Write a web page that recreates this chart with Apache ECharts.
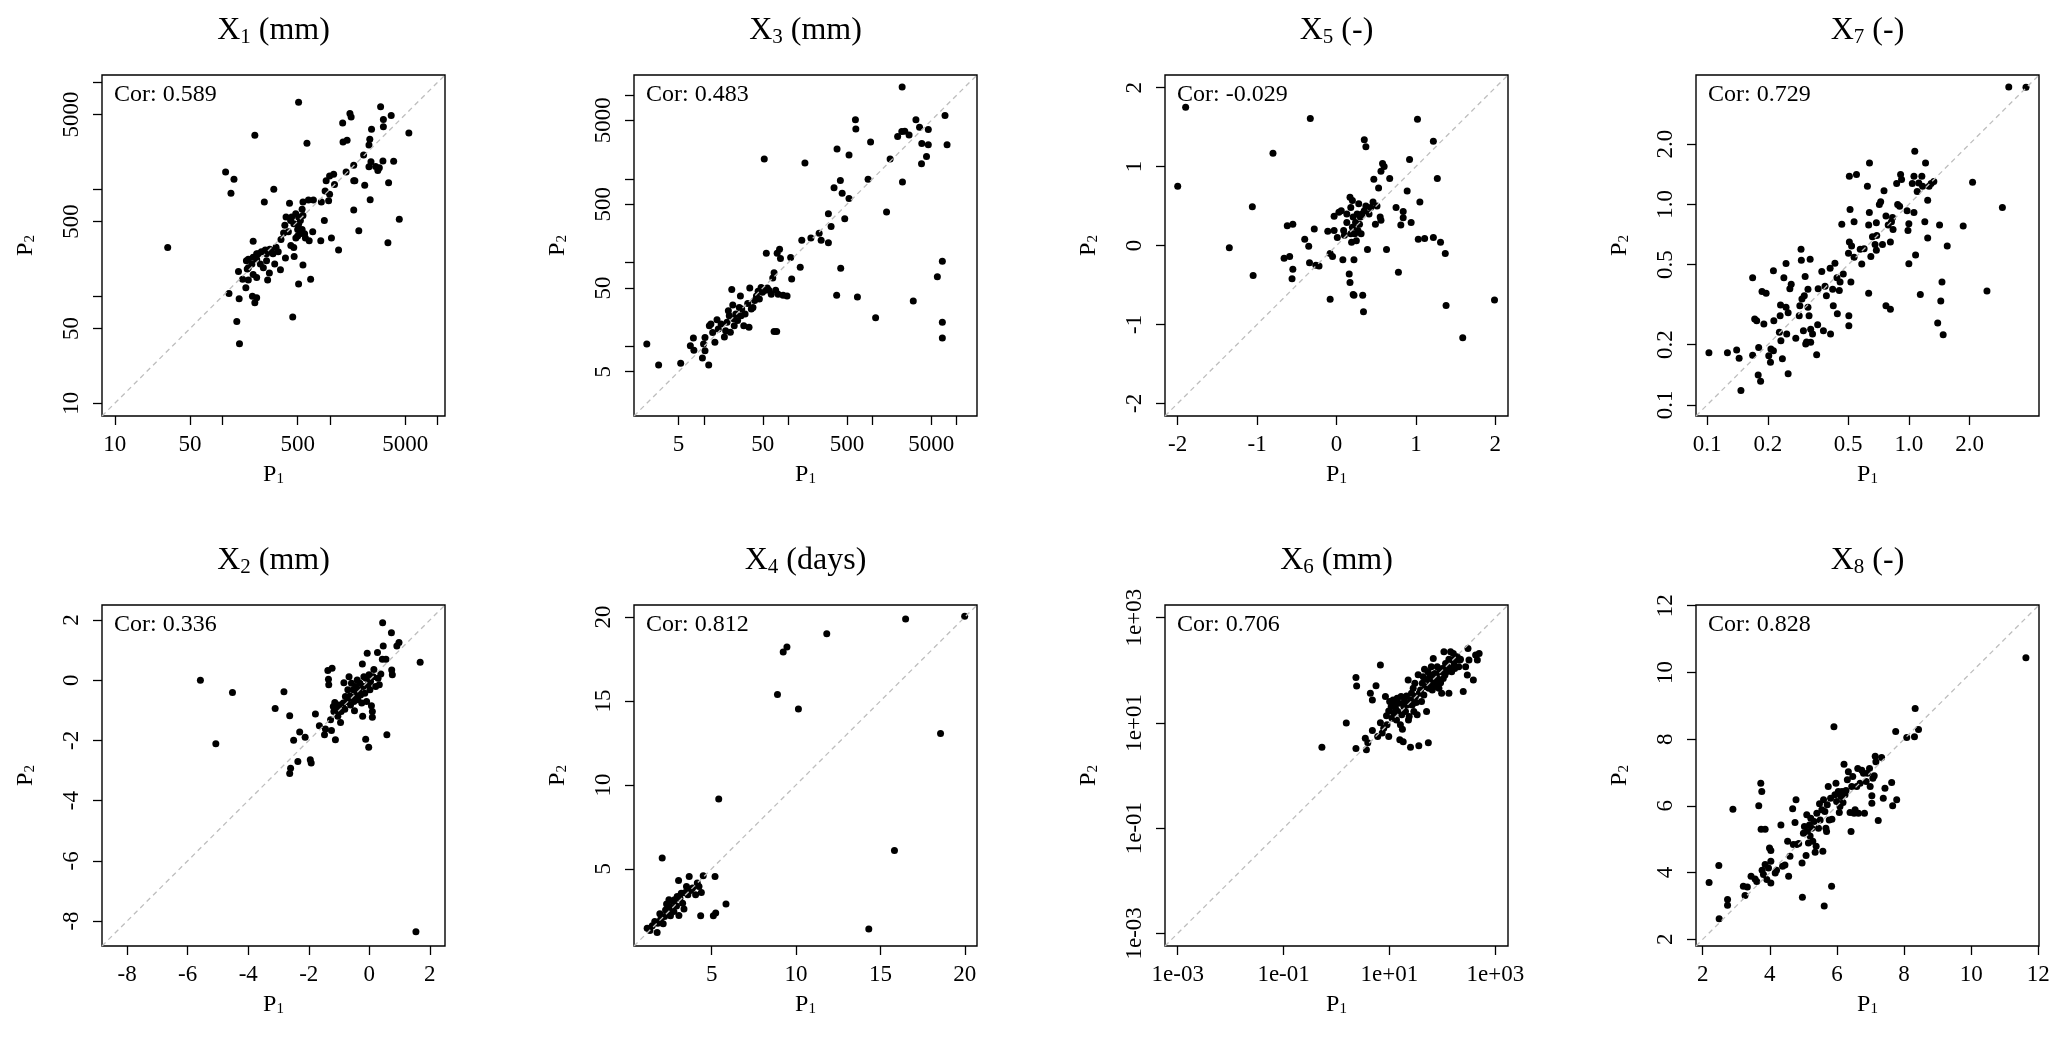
<!DOCTYPE html>
<html>
<head>
<meta charset="utf-8">
<script src="https://cdn.jsdelivr.net/npm/echarts@6/dist/echarts.min.js"></script>
<style>
  html, body { margin: 0; background: #fff; }
  #chart { width: 2067px; height: 1043px; }
</style>
</head>
<body>
<div id="chart"></div>
<script>
  // [P1, P2] pairs
  const x1Pts = [[510,6500],[200,3200],[610,2700],[107,1450],[128,1240],[120,920],[300,1000],[245,760],[31,285],[136,58],[144,36],[450,64],[115,106],[143,95],[200,87],[208,97],[190,100],[510,130],[660,144],[165,120],[141,170],[154,144],[174,142],[263,142],[273,165],[346,177],[560,196],[464,235],[385,228],[306,200],[193,326],[432,298],[481,351],[580,383],[640,330],[690,400],[820,330],[1030,350],[1200,270],[1850,410],[1660,640],[885,510],[3450,317],[4400,525],[3500,1150],[2360,800],[2100,1090],[1660,1200],[1700,1200],[3900,1830],[3100,1840],[2400,1810],[2300,1620],[2650,1630],[2780,1500],[2870,1590],[5400,3350],[2950,5900],[3700,4900],[3130,4480],[3130,3840],[2430,3640],[2340,2930],[2300,2590],[2050,2090],[1660,1680],[1410,1450],[1530,5100],[1570,4750],[1310,4170],[1320,2770],[1440,2870],[1080,1380],[990,1330],[920,1200],[1100,1110],[900,965],[990,900],[970,780],[830,760],[700,795],[630,795],[560,760],[420,740],[550,650],[510,550],[440,550],[390,550],[460,475],[510,470],[550,420],[500,420],[370,390],[430,510],[530,510],[560,570],[480,590],[380,460],[350,340],[315,287],[275,275],[250,270],[230,260],[215,250],[193,231],[174,222],[167,215],[174,185],[188,200],[208,222],[225,200],[240,185],[257,215],[295,250],[330,260],[208,150],[193,160],[170,180],[208,250],[257,250],[285,265],[460,285],[500,365],[590,350],[410,400],[525,385]];

  const x3Pts = [[2.1,10.7],[2.9,6.0],[5.3,6.3],[6.9,10.2],[7.5,12.6],[7.6,9.0],[9.6,7.3],[9.9,10.7],[10.3,8.9],[10.3,12.8],[11.4,6.0],[11.6,17.7],[12.1,18.5],[12.7,14.7],[13.5,11.2],[14.3,20.8],[14.8,16.2],[16.0,18.5],[17.5,13.0],[18.1,15.4],[18.8,19.5],[19.5,26.7],[20.0,23.3],[20.6,14.8],[21.4,48],[22.0,31.3],[22.5,21.4],[22.9,17.7],[23.9,24.5],[25.1,20.4],[26.3,29.2],[27.1,40],[27.6,23.3],[28.1,28.0],[29.7,17.7],[30.8,24.5],[33.1,32.7],[34.3,17.0],[35,50],[36.5,28],[38.2,29.2],[40,35.5],[42,40],[44,45.5],[45.5,37],[47.7,50.5],[49.5,44.5],[52.3,46.5],[55,130],[56.5,50],[59,47],[63,42],[65.6,65.6],[68,76],[71,47],[74,130],[79,145],[81,112],[68,15.1],[73,15.1],[76,42],[87,41],[97,40],[107,115],[110,64],[139,88],[145,185],[158,1550],[52,1730],[186,197],[233,225],[246,185],[300,173],[300,385],[323,270],[350,787],[376,41],[380,2280],[416,955],[420,86],[437,675],[469,335],[527,582],[527,1930],[628,5070],[635,3950],[663,39],[887,990],[950,2750],[1090,22],[1470,403],[1620,1730],[1990,3200],[2230,3680],[2250,12500],[2270,920],[2420,3700],[2720,3350],[3050,35],[3280,5070],[3620,4150],[3820,1520],[3850,2650],[4380,1850],[4600,3890],[4600,2550],[5890,68],[6750,104],[6750,19.4],[6750,12.6],[7260,5700],[7680,2550]];

  const x5Pts = [[-2.0,0.75],[-1.9,1.75],[-1.35,-0.03],[-1.06,0.49],[-1.05,-0.38],[-0.8,1.17],[-0.66,-0.16],[-0.62,0.25],[-0.59,-0.14],[-0.55,0.27],[-0.55,-0.30],[-0.56,-0.42],[-0.40,0.08],[-0.35,-0.01],[-0.34,-0.22],[-0.33,1.61],[-0.28,0.21],[-0.22,-0.26],[-0.26,-0.25],[-0.11,0.18],[-0.08,-0.68],[-0.08,-0.1],[-0.05,-0.14],[-0.03,0.19],[-0.03,0.37],[0.01,0.1],[0.03,0.42],[0.06,0.44],[0.08,-0.18],[0.09,0.19],[0.10,0.13],[0.13,0.29],[0.13,0.40],[0.16,-0.36],[0.17,-0.47],[0.17,0.61],[0.18,0.48],[0.18,0.15],[0.19,0.04],[0.20,0.57],[0.20,0.23],[0.21,0.36],[0.21,-0.62],[0.22,-0.63],[0.22,-0.18],[0.23,0.15],[0.24,0.29],[0.25,0.06],[0.26,0.40],[0.27,0.19],[0.28,0.53],[0.29,0.27],[0.30,0.36],[0.31,0.15],[0.32,0.40],[0.33,-0.63],[0.34,-0.84],[0.35,0.44],[0.35,1.34],[0.37,1.25],[0.37,0.50],[0.39,-0.05],[0.41,0.40],[0.43,0.48],[0.46,0.55],[0.47,0.84],[0.49,0.27],[0.51,0.50],[0.53,0.73],[0.55,0.36],[0.56,0.94],[0.56,0.32],[0.58,1.04],[0.60,1.0],[0.63,-0.05],[0.67,0.85],[0.75,0.48],[0.78,-0.34],[0.81,0.26],[0.84,0.43],[0.84,0.35],[0.89,0.69],[0.92,1.09],[0.94,0.29],[1.02,1.60],[1.03,0.08],[1.05,0.55],[1.11,0.09],[1.22,1.32],[1.22,0.10],[1.27,0.85],[1.31,0.04],[1.37,-0.1],[1.38,-0.76],[1.59,-1.17],[1.99,-0.69]];

  const x7Pts = [[0.102,0.182],[0.126,0.182],[0.14,0.188],[0.144,0.171],[0.147,0.118],[0.168,0.177],[0.168,0.43],[0.172,0.268],[0.176,0.263],[0.179,0.141],[0.18,0.193],[0.184,0.131],[0.187,0.368],[0.191,0.253],[0.196,0.36],[0.202,0.176],[0.206,0.163],[0.207,0.19],[0.213,0.186],[0.213,0.466],[0.214,0.263],[0.228,0.23],[0.23,0.278],[0.232,0.209],[0.231,0.315],[0.236,0.17],[0.24,0.43],[0.246,0.507],[0.246,0.307],[0.248,0.226],[0.252,0.288],[0.252,0.143],[0.257,0.38],[0.261,0.4],[0.275,0.215],[0.286,0.278],[0.288,0.312],[0.292,0.597],[0.293,0.527],[0.295,0.337],[0.30,0.234],[0.303,0.35],[0.306,0.437],[0.308,0.201],[0.311,0.206],[0.316,0.377],[0.316,0.307],[0.32,0.278],[0.324,0.532],[0.326,0.238],[0.326,0.205],[0.333,0.226],[0.349,0.178],[0.353,0.251],[0.355,0.38],[0.37,0.462],[0.377,0.234],[0.384,0.39],[0.39,0.35],[0.407,0.48],[0.409,0.226],[0.419,0.377],[0.422,0.312],[0.43,0.508],[0.44,0.43],[0.442,0.285],[0.452,0.372],[0.456,0.41],[0.465,0.795],[0.473,0.45],[0.504,0.278],[0.504,0.248],[0.502,0.57],[0.507,1.38],[0.511,0.944],[0.507,0.65],[0.52,0.62],[0.516,0.41],[0.535,0.82],[0.535,0.545],[0.55,1.41],[0.574,0.597],[0.584,0.504],[0.6,0.6],[0.623,1.23],[0.632,0.36],[0.637,0.91],[0.638,1.61],[0.632,0.79],[0.648,0.55],[0.66,0.69],[0.68,0.63],[0.69,0.59],[0.69,0.81],[0.693,0.70],[0.714,1.0],[0.725,1.03],[0.74,0.63],[0.753,1.17],[0.77,0.312],[0.77,0.875],[0.79,0.79],[0.81,0.65],[0.81,0.3],[0.82,0.82],[0.83,0.86],[0.835,0.75],[0.87,1.27],[0.88,1.0],[0.9,0.98],[0.91,1.41],[0.92,1.33],[0.98,0.93],[0.99,0.74],[1.0,0.506],[1.0,0.8],[1.04,1.27],[1.06,1.38],[1.06,0.91],[1.07,1.84],[1.08,0.56],[1.1,1.16],[1.12,1.28],[1.14,0.355],[1.16,1.38],[1.17,1.23],[1.21,1.61],[1.2,0.82],[1.24,0.68],[1.24,1.05],[1.26,1.23],[1.29,1.27],[1.33,1.3],[1.39,0.256],[1.42,0.79],[1.44,0.33],[1.46,0.41],[1.48,0.224],[1.55,0.62],[1.86,0.78],[2.07,1.29],[2.44,0.37],[2.91,0.965],[3.13,3.85],[3.81,3.84]];

  const x2Pts = [[-5.58,0],[-5.07,-2.11],[-4.52,-0.41],[-3.11,-0.94],[-2.82,-0.38],[-2.63,-1.18],[-2.6,-2.92],[-2.63,-3.1],[-2.5,-1.99],[-2.36,-2.7],[-2.3,-1.72],[-2.12,-1.89],[-1.95,-2.64],[-1.92,-2.75],[-1.78,-1.12],[-1.65,-1.51],[-1.48,-1.81],[-1.45,-1.62],[-1.37,0.32],[-1.35,0.03],[-1.34,-0.15],[-1.28,-1.31],[-1.25,-1.67],[-1.23,0.4],[-1.19,-0.87],[-1.17,-1.04],[-1.14,-0.74],[-1.12,-1.98],[-1.08,-0.98],[-1.04,-1.2],[-1.0,-0.82],[-0.95,-1.4],[-0.93,-1.04],[-0.86,-0.76],[-0.84,-0.08],[-0.81,-0.96],[-0.79,-0.54],[-0.73,-0.71],[-0.71,-0.32],[-0.67,0.12],[-0.64,-0.52],[-0.62,-0.82],[-0.59,-0.1],[-0.56,-0.6],[-0.53,-0.32],[-0.51,-0.71],[-0.49,-1.01],[-0.45,-0.21],[-0.42,-0.49],[-0.4,0.01],[-0.38,-0.65],[-0.34,-0.32],[-0.31,-0.1],[-0.29,-0.49],[-0.25,-0.76],[-0.23,0.54],[-0.22,-1.2],[-0.2,-0.21],[-0.18,0.12],[-0.15,-0.43],[-0.12,-1.96],[-0.11,0.07],[-0.09,-0.71],[-0.07,0.9],[-0.04,-0.15],[-0.02,-2.23],[-0.01,0.18],[0.02,-0.32],[0.04,-0.04],[0.07,-0.85],[0.1,-1.04],[0.1,-1.23],[0.13,0.12],[0.15,0.36],[0.21,-0.21],[0.27,0.92],[0.29,0.07],[0.33,-0.15],[0.38,0.21],[0.43,0.7],[0.44,1.91],[0.46,1.14],[0.55,0.7],[0.58,-1.81],[0.73,1.58],[0.74,0.34],[0.76,0.18],[0.91,1.14],[0.98,1.25],[1.68,0.6],[1.54,-8.36]];

  const x4Pts = [[1.18,1.46],[1.34,1.32],[1.48,1.6],[1.63,1.86],[1.77,1.2],[1.81,1.76],[1.93,2.32],[1.97,1.96],[2.07,5.64],[2.13,1.72],[2.21,2.16],[2.27,2.55],[2.33,2.91],[2.41,2.4],[2.47,3.15],[2.49,2.75],[2.56,2.2],[2.66,2.65],[2.72,3.05],[2.76,2.46],[2.8,3.15],[2.92,2.79],[2.96,3.35],[3.04,4.3],[3.06,2.22],[3.12,3.25],[3.2,3.55],[3.28,2.95],[3.36,2.6],[3.44,3.59],[3.51,3.95],[3.59,3.45],[3.67,4.54],[3.75,3.71],[3.87,3.85],[4.05,3.45],[4.15,4.15],[4.25,3.95],[4.35,2.2],[4.39,3.59],[4.5,4.58],[5.1,2.2],[5.24,2.36],[5.2,4.54],[5.42,9.16],[5.85,2.91],[8.9,15.38],[9.24,17.92],[9.46,18.22],[10.14,14.52],[11.82,19.0],[14.31,1.42],[15.83,6.09],[16.49,19.89],[18.56,13.07],[19.99,20.05]];

  const x6Pts = [[0.53,3.46],[1.53,9.9],[2.33,73],[2.4,50],[2.33,3.27],[3.5,5.1],[3.67,3.1],[3.9,4.2],[4.36,36.5],[4.76,27.3],[4.76,7.15],[5.58,51],[6.0,5.5],[6.75,126],[6.75,10.1],[7.3,6.4],[7.8,7.9],[8.4,31.6],[8.8,13.6],[9.0,9.2],[9.7,5.5],[9.7,16.9],[10.1,25.4],[10.8,20.4],[11.2,12.3],[11.7,27.3],[12.1,15.3],[12.4,22.9],[13.0,18.9],[13.6,11.4],[14.0,29.4],[14.4,16.4],[15.0,23.6],[15.7,4.76],[16.1,9.2],[16.6,31.6],[17.1,14.2],[17.6,7.6],[18.2,4.4],[18.7,20.4],[19.2,25.4],[20.1,16.4],[21.0,32.5],[21.6,21.9],[22.6,65],[22.9,11.4],[23.6,13.2],[25.0,27.3],[25.0,3.46],[26.1,36.5],[26.9,21.9],[28.1,45.4],[28.9,16.4],[30.2,56.5],[31.1,31.6],[32.0,24.3],[33.4,14.2],[34.9,82],[35.9,3.67],[36.5,36.5],[38.7,42.2],[40.4,25.4],[41.7,56.5],[43.4,75],[44.7,34],[46.0,104],[48.1,48.8],[50.3,16.4],[52.0,67],[53.6,94],[54.3,4.2],[55.6,45.4],[58.2,81],[60.0,56.5],[61.8,117],[64.5,42.2],[67.3,168],[67.3,65],[69.1,48.8],[72.2,87],[74.3,52.5],[77.6,75],[80.0,117],[83.6,65],[86.1,45.4],[89.9,94],[92.6,58],[96.9,36.5],[99.7,108],[104,70],[107,225],[112,81],[115,135],[120,94],[124,117],[133,36.5],[133,161],[139,108],[143,225],[150,94],[154,156],[161,209],[166,126],[171,108],[178,156],[191,181],[204,117],[214,156],[220,161],[248,39.3],[275,117],[296,81],[305,260],[318,156],[385,65],[425,195],[458,156],[495,209]];

  const x8Pts = [[2.19,3.70],[2.48,4.21],[2.49,2.62],[2.74,3.19],[2.74,3.02],[2.9,5.9],[3.21,3.59],[3.26,3.31],[3.33,3.57],[3.44,3.89],[3.56,3.81],[3.61,3.73],[3.67,6.0],[3.73,6.68],[3.76,6.43],[3.74,5.3],[3.86,5.3],[3.77,4.07],[3.81,3.94],[3.86,4.24],[3.91,3.79],[3.96,4.14],[3.99,4.74],[4.03,4.66],[4.03,3.69],[4.03,4.34],[4.16,3.99],[4.2,4.07],[4.33,5.43],[4.38,4.19],[4.45,4.23],[4.53,4.94],[4.56,3.89],[4.6,4.49],[4.68,5.91],[4.7,4.84],[4.75,5.5],[4.78,6.18],[4.8,4.84],[4.86,4.87],[4.96,4.29],[4.97,3.26],[5.0,5.18],[5.03,5.38],[5.08,4.51],[5.1,5.73],[5.12,5.23],[5.15,4.89],[5.18,5.43],[5.2,5.1],[5.22,5.63],[5.25,5.33],[5.28,4.94],[5.32,5.53],[5.35,4.61],[5.38,4.79],[5.4,5.78],[5.45,5.33],[5.48,6.06],[5.5,5.58],[5.55,5.88],[5.58,4.64],[5.6,6.18],[5.62,3.0],[5.64,5.83],[5.67,5.33],[5.69,5.23],[5.71,6.03],[5.74,6.58],[5.77,5.58],[5.81,6.23],[5.84,3.59],[5.85,5.6],[5.91,8.37],[5.94,6.33],[5.97,6.68],[5.99,6.13],[6.04,6.43],[6.07,5.8],[6.09,5.98],[6.12,6.28],[6.15,6.43],[6.18,6.1],[6.21,7.25],[6.24,6.33],[6.27,6.46],[6.31,6.78],[6.34,7.02],[6.39,5.8],[6.42,5.23],[6.44,6.58],[6.47,6.88],[6.51,5.78],[6.54,5.88],[6.59,6.58],[6.62,7.12],[6.64,5.78],[6.69,6.68],[6.74,7.07],[6.79,6.98],[6.82,5.78],[6.87,6.73],[6.91,6.98],[6.97,7.12],[6.99,6.58],[7.04,6.3],[7.04,6.08],[7.07,6.83],[7.11,6.9],[7.14,7.49],[7.16,7.32],[7.23,5.56],[7.33,7.45],[7.43,6.53],[7.38,6.23],[7.63,6.7],[7.66,6.0],[7.78,6.18],[7.75,8.23],[8.08,8.05],[8.31,8.07],[8.33,8.92],[8.43,8.29],[11.63,10.44]];

  // tick marks and labelled ticks (same on both axes of a panel)
  const x1Ticks = [10, 50, 100, 500, 1000, 5000, 10000];
  const x1Labels = [10, 50, 500, 5000];
  const x3Ticks = [5, 10, 50, 100, 500, 1000, 5000, 10000];
  const x3Labels = [5, 50, 500, 5000];
  const x5Ticks = [-2, -1, 0, 1, 2];
  const x7Ticks = [0.1, 0.2, 0.5, 1, 2];
  const x7Labels = ['0.1', '0.2', '0.5', '1.0', '2.0'];
  const x2Ticks = [-8, -6, -4, -2, 0, 2];
  const x4Ticks = [5, 10, 15, 20];
  const x6Ticks = [1e-3, 1e-1, 1e1, 1e3];
  const x6Labels = ['1e-03', '1e-01', '1e+01', '1e+03'];
  const x8Ticks = [2, 4, 6, 8, 10, 12];

  const panels = [
    { sub: '1', unit: '(mm)', cor: '0.589', log: true, lo: 7.6, hi: 11700, ticks: x1Ticks, labelVals: x1Labels, labelText: x1Labels.map(String), pts: x1Pts },
    { sub: '3', unit: '(mm)', cor: '0.483', log: true, lo: 1.48, hi: 17400, ticks: x3Ticks, labelVals: x3Labels, labelText: x3Labels.map(String), pts: x3Pts },
    { sub: '5', unit: '(-)', cor: '-0.029', log: false, lo: -2.16, hi: 2.16, ticks: x5Ticks, labelVals: x5Ticks, labelText: x5Ticks.map(String), pts: x5Pts },
    { sub: '7', unit: '(-)', cor: '0.729', log: true, lo: 0.088, hi: 4.42, ticks: x7Ticks, labelVals: x7Ticks, labelText: x7Labels, pts: x7Pts },
    { sub: '2', unit: '(mm)', cor: '0.336', log: false, lo: -8.83, hi: 2.5, ticks: x2Ticks, labelVals: x2Ticks, labelText: x2Ticks.map(String), pts: x2Pts },
    { sub: '4', unit: '(days)', cor: '0.812', log: false, lo: 0.4, hi: 20.72, ticks: x4Ticks, labelVals: x4Ticks, labelText: x4Ticks.map(String), pts: x4Pts },
    { sub: '6', unit: '(mm)', cor: '0.706', log: true, lo: 0.000575, hi: 1738, ticks: x6Ticks, labelVals: x6Ticks, labelText: x6Labels, pts: x6Pts },
    { sub: '8', unit: '(-)', cor: '0.828', log: false, lo: 1.8, hi: 12.02, ticks: x8Ticks, labelVals: x8Ticks, labelText: x8Ticks.map(String), pts: x8Pts }
  ];

  const FONT = 'Liberation Serif';
  const colLeft = [102, 634, 1165, 1696];
  const rowTop = [75, 605];
  const titleY = [31, 561];
  const boxW = 343, boxH = 341;

  const subRich = (size, subSize, lh, subLh) => ({
    m: { fontFamily: FONT, fontSize: size, color: '#000', lineHeight: lh },
    s: { fontFamily: FONT, fontSize: subSize, color: '#000', lineHeight: subLh, verticalAlign: 'bottom' }
  });

  let grids = [], xAxes = [], yAxes = [], series = [], titles = [];

  panels.forEach((p, i) => {
    const row = Math.floor(i / 4);
    const left = colLeft[i % 4], top = rowTop[row];
    const tv = p.log ? (v => Math.log10(v)) : (v => v);
    const fmt = v => {
      for (let j = 0; j < p.labelVals.length; j++) {
        if (Math.abs(tv(p.labelVals[j]) - v) < 1e-6) return p.labelText[j];
      }
      return '';
    };

    grids.push({
      left: left, top: top, width: boxW, height: boxH,
      show: true, borderColor: '#000', borderWidth: 1.4,
      backgroundColor: 'transparent', outerBoundsMode: 'none'
    });

    const tickStyle = { show: true, inside: false, length: 9, lineStyle: { color: '#000', width: 1.3 }, customValues: p.ticks.map(tv) };
    const labelStyle = { show: true, customValues: p.labelVals.map(tv), formatter: fmt, color: '#000', fontFamily: FONT, fontSize: 23 };

    // visible axes: ticks and labels only, kept on the box edge
    xAxes.push({
      type: 'value', gridIndex: i, position: 'bottom', min: tv(p.lo), max: tv(p.hi),
      axisLine: { show: false, onZero: false }, splitLine: { show: false },
      axisTick: tickStyle,
      axisLabel: Object.assign({ margin: 17 }, labelStyle),
      name: '{m|P}{s|1}', nameLocation: 'middle', nameGap: 47,
      nameTextStyle: { rich: subRich(24, 15, 24, 8) }
    });
    yAxes.push({
      type: 'value', gridIndex: i, position: 'left', min: tv(p.lo), max: tv(p.hi),
      axisLine: { show: false, onZero: false }, splitLine: { show: false },
      axisTick: tickStyle,
      axisLabel: Object.assign({ margin: 19, rotate: 90 }, labelStyle),
      name: '{m|P}{s|2}', nameLocation: 'middle', nameGap: 64,
      nameTextStyle: { rich: subRich(24, 15, 24, 8) }
    });
    // hidden data axes (log or linear) that place the points
    xAxes.push({ type: p.log ? 'log' : 'value', gridIndex: i, position: 'top', min: p.lo, max: p.hi, show: false, axisLine: { onZero: false } });
    yAxes.push({ type: p.log ? 'log' : 'value', gridIndex: i, position: 'right', min: p.lo, max: p.hi, show: false, axisLine: { onZero: false } });

    series.push({
      type: 'scatter', xAxisIndex: 2 * i + 1, yAxisIndex: 2 * i + 1,
      data: p.pts, symbol: 'circle', symbolSize: 7,
      itemStyle: { color: '#000', opacity: 1 }, z: 2, silent: true
    });
    series.push({
      type: 'line', xAxisIndex: 2 * i + 1, yAxisIndex: 2 * i + 1,
      data: [[p.lo, p.lo], [p.hi, p.hi]], symbol: 'none',
      lineStyle: { color: '#bebebe', width: 1.3, type: [5, 4] }, z: 3, silent: true
    });

    titles.push({
      text: '{m|X}{s|' + p.sub + '}{m| ' + p.unit + '}',
      left: left + boxW / 2, top: titleY[row], textAlign: 'center', textVerticalAlign: 'middle', padding: 0,
      textStyle: { fontWeight: 'normal', rich: subRich(32, 21, 34, 12) }
    });
    titles.push({
      text: 'Cor: ' + p.cor,
      left: left + 12, top: top + 20, textAlign: 'left', textVerticalAlign: 'middle', padding: 0,
      textStyle: { fontFamily: FONT, fontSize: 24, fontWeight: 'normal', color: '#000' }
    });
  });

  const chart = echarts.init(document.getElementById('chart'));
  chart.setOption({
    animation: false,
    backgroundColor: '#fff',
    title: titles,
    grid: grids,
    xAxis: xAxes,
    yAxis: yAxes,
    series: series
  });
</script>
</body>
</html>
